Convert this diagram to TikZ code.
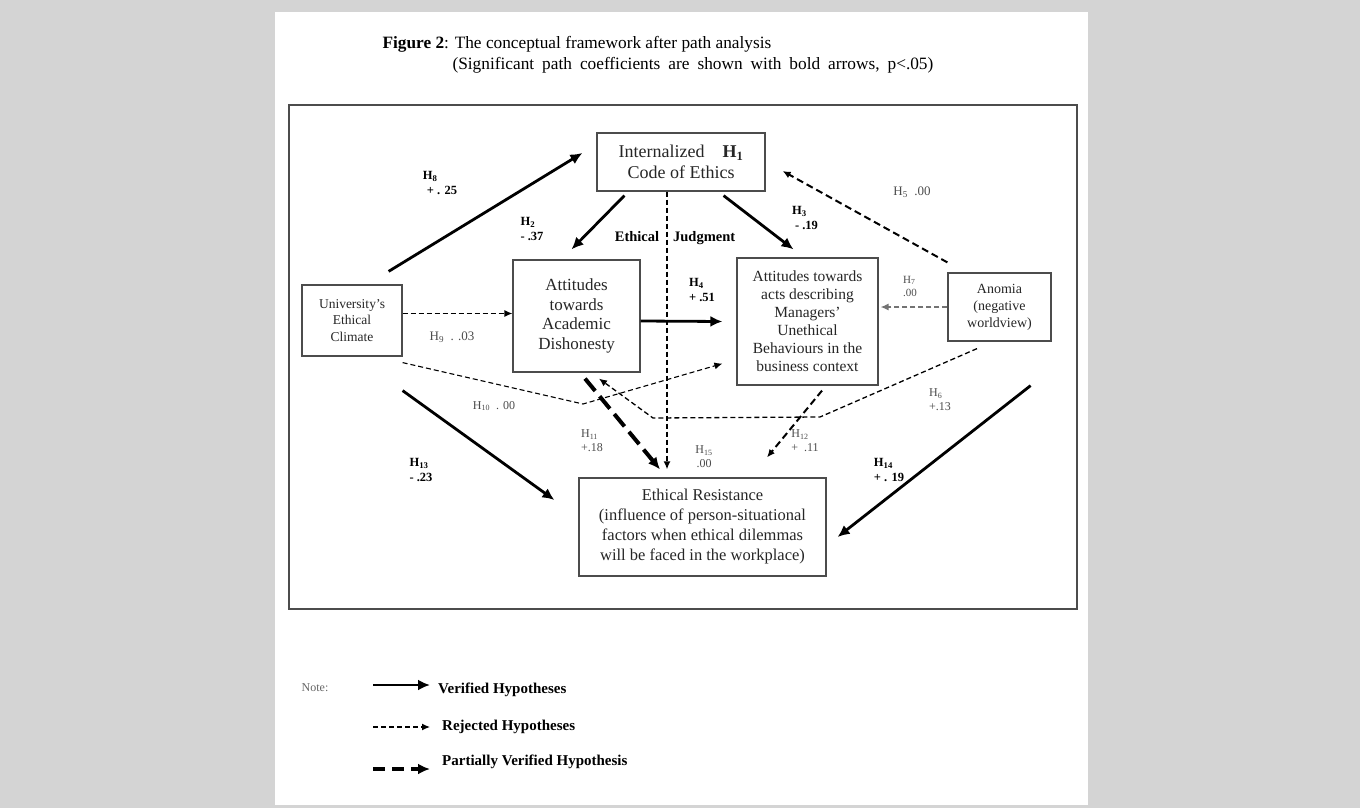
\documentclass[tikz,border=0pt]{standalone}
\usepackage{fontspec}
\setmainfont{Liberation Serif}
\usetikzlibrary{arrows.meta,positioning}
\newcommand{\hyp}[1]{H\textsubscript{#1}}

\begin{document}
\begin{tikzpicture}[
  x=1pt,y=-1pt,
  construct/.style={draw=black!70,line width=1.2pt,align=center,inner sep=0pt,text=black!85},
  verified/.style={line width=2.8pt,-{Latex[length=12pt,width=11pt]}},
  rejected/.style={line width=1.3pt,dash pattern=on 5pt off 3pt,-{Latex[length=8pt,width=7pt]}},
  partial/.style={line width=4pt,dash pattern=on 16pt off 7pt,-{Latex[length=12pt,width=11pt]}},
  coef/.style={align=left,inner sep=0pt,text=black!70,font=\fontsize{12}{14}\selectfont},
  boldcoef/.style={align=left,inner sep=0pt,font=\bfseries\fontsize{12.5}{15}\selectfont},
  legend/.style={anchor=west,inner sep=0pt,font=\bfseries\fontsize{15}{17}\selectfont}
]
  \fill[black!17] (0,0) rectangle (1360,808);
  \fill[white] (275,12) rectangle (1088,805);
  \draw[black!70,line width=1.2pt] (289,105) rectangle (1077,609);
  \useasboundingbox (0,0) rectangle (1360,808);

  \node[anchor=west,font=\fontsize{17.3}{20}\selectfont] (title) at (379,44) {\textbf{Figure 2}: The conceptual framework after path analysis};
  \node[anchor=west,font=\fontsize{17.3}{20}\selectfont] (subtitle) at (449,65) {\spaceskip=8pt (Significant path coefficients are shown with bold arrows, p<.05)};

  \node[construct,minimum width=168pt,minimum height=58pt,font=\fontsize{18}{21}\selectfont] (code) at (681,162) {Internalized\quad\textbf{\hyp{1}}\\Code of Ethics};
  \node[construct,minimum width=100pt,minimum height=71pt,font=\fontsize{13.5}{16.5}\selectfont] (univ) at (352,320.5) {University's\\Ethical\\Climate};
  \node[construct,minimum width=127pt,minimum height=112pt,font=\fontsize{17}{19.5}\selectfont] (acad) at (576.5,316) {Attitudes\\towards\\Academic\\Dishonesty};
  \node[construct,minimum width=141pt,minimum height=127pt,font=\fontsize{15.5}{18}\selectfont] (mgr) at (807.5,321.5) {Attitudes towards\\acts describing\\Managers'\\Unethical\\Behaviours in the\\business context};
  \node[construct,minimum width=103pt,minimum height=68pt,font=\fontsize{14}{17}\selectfont] (anom) at (999.5,307) {Anomia\\(negative\\worldview)};
  \node[construct,minimum width=247pt,minimum height=98pt,font=\fontsize{16.5}{20}\selectfont] (res) at (702.5,527) {Ethical Resistance\\(influence of person-situational\\factors when ethical dilemmas\\will be faced in the workplace)};

  \coordinate (h10) at (583,404);
  \coordinate (h6a) at (820,417);
  \coordinate (h6b) at (653,418);

  \draw[verified] ([xshift=-14pt,yshift=13pt]univ.north east) -- ([xshift=-14pt,yshift=9pt]code.west);
  \draw[verified] ([xshift=28pt,yshift=-4pt]code.south west) -- ([xshift=-5pt,yshift=10pt]acad.north);
  \draw[verified] ([xshift=-42pt,yshift=-4pt]code.south east) -- ([xshift=-14pt,yshift=8pt]mgr.north);
  \draw[verified] ([yshift=-5pt]acad.east) -- ([xshift=-14pt]mgr.west);
  \draw[verified] ([yshift=-34pt]univ.south east) -- ([xshift=-24pt,yshift=27pt]res.west);
  \draw[verified] ([xshift=-21pt,yshift=-44pt]anom.south east) -- ([xshift=11pt,yshift=-10pt]res.east);

  \draw[rejected,line width=2pt,dash pattern=on 7pt off 4pt] ([yshift=10pt]anom.north west) -- ([xshift=17pt,yshift=-9pt]code.east);
  \draw[rejected] ([yshift=7pt]univ.east) -- ([yshift=7pt]univ.east -| acad.west);
  \draw[rejected,black!55] (anom.west) -- ([xshift=2pt]anom.west -| mgr.east);
  \draw[rejected,line width=1.1pt] ([yshift=-6pt]univ.south east) -- (h10) -- ([xshift=-14pt,yshift=22pt]mgr.south west);
  \draw[rejected] ([xshift=-22.5pt,yshift=-7pt]anom.south) -- (h6a) -- (h6b) -- ([xshift=22.5pt,yshift=-6pt]acad.south);
  \draw[rejected,line width=2pt,dash pattern=on 7pt off 4pt] ([xshift=14.5pt,yshift=-5pt]mgr.south) -- ([xshift=64.5pt,yshift=20pt]res.north);
  \draw[rejected,line width=1.6pt,shorten >=8pt] ([xshift=-14pt]code.south) -- ([xshift=-14pt]code.south |- res.north);
  \draw[partial] ([xshift=8.5pt,yshift=-6pt]acad.south) -- ([xshift=-42.5pt,yshift=8pt]res.north);

  \node[font=\bfseries\fontsize{14.5}{17}\selectfont] (judgment) at (675,238) {Ethical\hspace{14pt}Judgment};
  \node[boldcoef] (l8) at (440,183) {\hyp{8}\\\hspace*{4pt}+ . 25};
  \node[boldcoef] (l2) at (532,229) {\hyp{2}\\- .37};
  \node[boldcoef] (l3) at (805,218) {\hyp{3}\\\hspace*{3pt}- .19};
  \node[boldcoef] (l4) at (702,290) {\hyp{4}\\+ .51};
  \node[boldcoef] (l13) at (421,470) {\hyp{13}\\- .23};
  \node[boldcoef] (l14) at (889,470) {\hyp{14}\\+ . 19};
  \node[coef,font=\fontsize{13}{15}\selectfont] (l5) at (912,192) {\hyp{5}\ \ .00};
  \node[coef,font=\fontsize{11}{13}\selectfont] (l7) at (910,286) {\hyp{7}\\.00};
  \node[coef,font=\fontsize{13}{15}\selectfont] (l9) at (452,337) {\hyp{9}\ \ . .03};
  \node[coef] (l10) at (494,406) {\hyp{10}\ \ . 00};
  \node[coef] (l6) at (940,400) {\hyp{6}\\+.13};
  \node[coef] (l11) at (592,441) {\hyp{11}\\+.18};
  \node[coef] (l12) at (805,441) {\hyp{12}\\+\ \ .11};
  \node[coef,align=center] (l15) at (704,457) {\hyp{15}\\.00};

  \node[coef,text=black!60] (note) at (315,688) {Note:};
  \coordinate (v1) at (373,685);
  \coordinate (v2) at (430,685);
  \coordinate (r1) at (373,727);
  \coordinate (r2) at (430,727);
  \coordinate (p1) at (373,769);
  \coordinate (p2) at (430,769);
  \draw[verified,line width=2.5pt] (v1) -- (v2);
  \draw[rejected] (r1) -- (r2);
  \draw[partial,dash pattern=on 12pt off 7pt] (p1) -- (p2);
  \node[legend,right=8pt of v2,yshift=-5pt] (vtext) {Verified Hypotheses};
  \node[legend,right=12pt of r2] (rtext) {Rejected Hypotheses};
  \node[legend,right=12pt of p2,yshift=7pt] (ptext) {Partially Verified Hypothesis};
\end{tikzpicture}
\end{document}
